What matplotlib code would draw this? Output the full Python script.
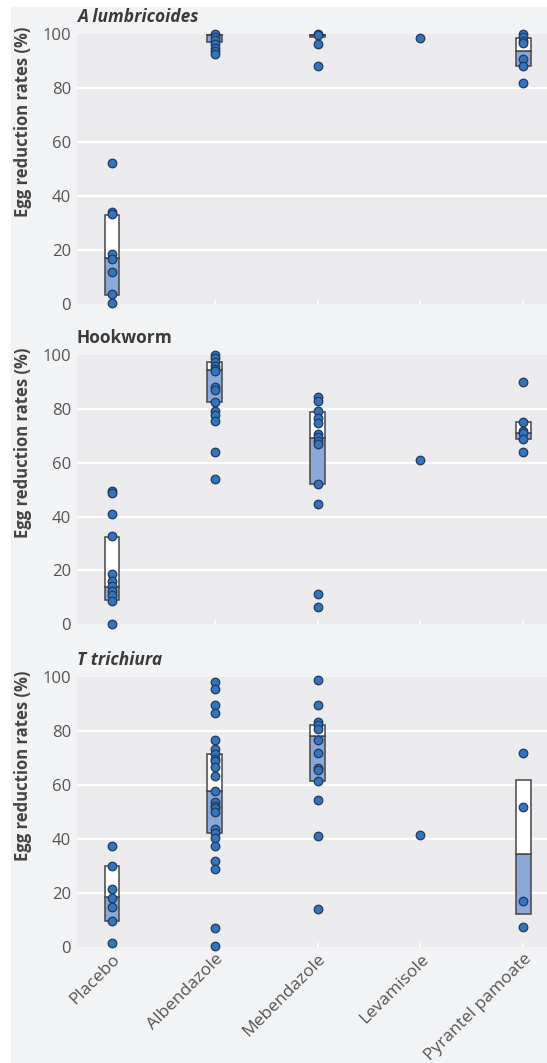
import numpy as np
import matplotlib
matplotlib.use("Agg")
import matplotlib.pyplot as plt
from matplotlib.patches import Rectangle

plt.rcParams["font.family"] = ["Open Sans", "DejaVu Sans"]

drugs = ["Placebo", "Albendazole", "Mebendazole", "Levamisole", "Pyrantel pamoate"]
panel_titles = ["A lumbricoides", "Hookworm", "T trichiura"]
title_italic = [True, False, True]

# egg reduction rates (%) per trial, one list per drug
asc_points = [
    [52, 34, 33.2, 18.3, 16.7, 11.8, 3.5, 0.2],
    [100, 99, 97.8, 96.5, 94.9, 93.7, 92.5],
    [100, 99.5, 96.2, 88.2],
    [98.4],
    [100, 98.8, 97.5, 96.6, 90.6, 88.1, 81.9],
]
asc_q1 = [3.1, 97.1, 99.0, None, 88.1]
asc_med = [17.0, 99.8, 99.8, None, 93.7]
asc_q3 = [33.0, 100.0, 100.0, None, 98.4]

hook_points = [
    [49.4, 48.6, 41, 32.7, 18.7, 16.1, 14.2, 12.2, 10.9, 8.7, 0],
    [100, 98.8, 97.5, 96, 94.8, 94.1, 88.2, 87, 82.7, 79, 77.7, 75.5, 63.9, 53.8],
    [84.2, 83, 79.2, 76.4, 74.6, 70.8, 69.5, 68, 66.8, 51.9, 44.6, 11.3, 6.3],
    [61.1],
    [90, 75, 71.8, 70.9, 68.9, 63.9],
]
hook_q1 = [8.9, 82.7, 51.9, None, 68.9]
hook_med = [13.7, 94.4, 69.3, None, 70.9]
hook_q3 = [32.5, 97.3, 78.8, None, 75.0]

tri_points = [
    [37.5, 30, 21.3, 18.2, 14.9, 9.5, 1.2],
    [98.3, 95.8, 89.6, 86.7, 76.6, 73.2, 71.5, 69.8, 69.1, 66.7, 63.2, 57.7,
     53.6, 52.4, 51.6, 49.9, 43.8, 42.3, 40.2, 37.4, 31.9, 29, 7.1, 0.1],
    [98.9, 89.8, 83.4, 82.2, 80.9, 76.9, 71.9, 66.4, 65.7, 61.5, 54.6, 41, 14.1],
    [41.5],
    [71.8, 52, 17, 7.2],
]
tri_q1 = [9.7, 42.2, 61.5, None, 12.0]
tri_med = [18.3, 57.7, 78.1, None, 34.3]
tri_q3 = [30.1, 71.4, 82.4, None, 61.9]

panels = [
    (asc_points, asc_q1, asc_med, asc_q3),
    (hook_points, hook_q1, hook_med, hook_q3),
    (tri_points, tri_q1, tri_med, tri_q3),
]

W, H = 547, 1063
fig = plt.figure(figsize=(W / 100, H / 100), dpi=100, facecolor="white")
fig.patches.append(Rectangle((11 / W, 0), 1, 1 - 7 / H, transform=fig.transFigure,
                             facecolor="#f2f3f5", edgecolor="none", zorder=-10))

axes_bottoms = [1 - 303.5 / H, 1 - 624.3 / H, 1 - 946.7 / H]
ax_h = 269.4 / H
ax_left = 76.8 / W
ax_w = 1 - ax_left

box_w = 0.14
blue_fill = "#8ba8d8"
box_edge = "#464646"
dot_face = "#3474bd"
dot_edge = "#213a5c"
x = np.arange(len(drugs))

for i, (pts, q1, med, q3) in enumerate(panels):
    ax = fig.add_axes([ax_left, axes_bottoms[i], ax_w, ax_h])
    ax.set_facecolor("#ebebee")
    for s in ax.spines.values():
        s.set_visible(False)
    for g in [20, 40, 60, 80]:
        ax.axhline(g, color="white", lw=1.6, zorder=0)

    for j in range(len(drugs)):
        if q1[j] is not None:
            ax.bar(x[j], med[j] - q1[j], bottom=q1[j], width=box_w, color=blue_fill,
                   edgecolor=box_edge, linewidth=1.1, zorder=2)
            ax.bar(x[j], q3[j] - med[j], bottom=med[j], width=box_w, color="white",
                   edgecolor=box_edge, linewidth=1.1, zorder=2)
        ax.scatter(np.full(len(pts[j]), x[j]), pts[j], s=38, color=dot_face,
                   edgecolors=dot_edge, linewidths=0.9, zorder=3, clip_on=False)

    ax.set_xlim(-0.34, 4.23)
    ax.set_ylim(0, 100)
    ax.set_yticks([0, 20, 40, 60, 80, 100])
    ax.tick_params(axis="y", length=0, pad=4, labelsize=12, labelcolor="#555555")
    ax.tick_params(axis="x", direction="in", length=3, width=1.2, color="white",
                   labelsize=12.5, labelcolor="#555555", pad=3)
    ax.set_xticks(x)
    if i == 2:
        ax.set_xticklabels(drugs, rotation=45, ha="right", rotation_mode="anchor")
    else:
        ax.set_xticklabels([])

    ax.text(-0.114, 1.026, "Egg reduction rates (%)", transform=ax.transAxes,
            rotation=90, ha="center", va="top", fontsize=12, fontweight="bold",
            color="#444444")
    ax.text(0, 1.064, panel_titles[i], transform=ax.transAxes, ha="left", va="center",
            fontsize=12.5, fontweight="bold", color="#3a3a3a",
            style="italic" if title_italic[i] else "normal")

fig.savefig("out.png", dpi=100, facecolor="white")
